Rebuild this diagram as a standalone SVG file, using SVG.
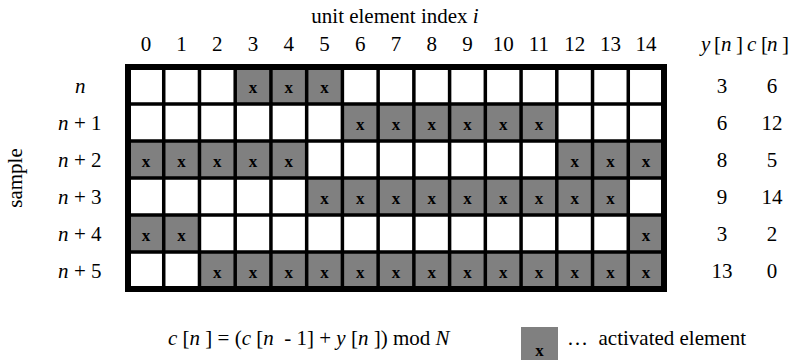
<svg xmlns="http://www.w3.org/2000/svg" width="793" height="360" viewBox="0 0 793 360">
<style>
text{font-family:"Liberation Serif","Times New Roman",serif;font-size:21px;fill:#000}
.i{font-style:italic}
.m{text-anchor:middle}
.on{fill:#808080}
.x{font-size:17px;font-weight:bold;text-anchor:middle}
.grid{fill:none;stroke:#000}
</style>
<rect width="793" height="360" fill="#fff"/>
<g id="title"><text x="395" y="23" class="m">unit element index <tspan class="i">i</tspan></text></g>
<g id="col-labels">
<text x="145.9" y="51" class="m">0</text><text x="181.6" y="51" class="m">1</text><text x="217.3" y="51" class="m">2</text><text x="253.1" y="51" class="m">3</text><text x="288.8" y="51" class="m">4</text><text x="324.5" y="51" class="m">5</text><text x="360.3" y="51" class="m">6</text><text x="396" y="51" class="m">7</text><text x="431.7" y="51" class="m">8</text><text x="467.5" y="51" class="m">9</text><text x="503.2" y="51" class="m">10</text><text x="538.9" y="51" class="m">11</text><text x="574.7" y="51" class="m">12</text><text x="610.4" y="51" class="m">13</text><text x="646.1" y="51" class="m">14</text>
</g>
<g id="axis-sample"><text transform="translate(22 178) rotate(-90)" class="m">sample</text></g>
<g id="row-labels">
<text x="75" y="93" class="i">n</text>
<text y="130"><tspan x="58" class="i">n</tspan><tspan x="74">+</tspan><tspan x="91">1</tspan></text>
<text y="167"><tspan x="58" class="i">n</tspan><tspan x="74">+</tspan><tspan x="91">2</tspan></text>
<text y="204"><tspan x="58" class="i">n</tspan><tspan x="74">+</tspan><tspan x="91">3</tspan></text>
<text y="241"><tspan x="58" class="i">n</tspan><tspan x="74">+</tspan><tspan x="91">4</tspan></text>
<text y="278"><tspan x="58" class="i">n</tspan><tspan x="74">+</tspan><tspan x="91">5</tspan></text>
</g>
<g id="grid-cells">
<rect x="128" y="67" width="536" height="222" fill="#fff"/>
<g id="row-0"><rect class="on" x="235.2" y="67" width="107.2" height="37"/>
<text class="x" x="253.1" y="93">x</text><text class="x" x="288.8" y="93">x</text><text class="x" x="324.5" y="93">x</text></g>
<g id="row-1"><rect class="on" x="342.4" y="104" width="214.4" height="37"/>
<text class="x" x="360.3" y="130">x</text><text class="x" x="396" y="130">x</text><text class="x" x="431.7" y="130">x</text><text class="x" x="467.5" y="130">x</text><text class="x" x="503.2" y="130">x</text><text class="x" x="538.9" y="130">x</text></g>
<g id="row-2"><rect class="on" x="128" y="141" width="178.7" height="37"/><rect class="on" x="556.8" y="141" width="107.2" height="37"/>
<text class="x" x="145.9" y="167">x</text><text class="x" x="181.6" y="167">x</text><text class="x" x="217.3" y="167">x</text><text class="x" x="253.1" y="167">x</text><text class="x" x="288.8" y="167">x</text><text class="x" x="574.7" y="167">x</text><text class="x" x="610.4" y="167">x</text><text class="x" x="646.1" y="167">x</text></g>
<g id="row-3"><rect class="on" x="306.7" y="178" width="321.6" height="37"/>
<text class="x" x="324.5" y="204">x</text><text class="x" x="360.3" y="204">x</text><text class="x" x="396" y="204">x</text><text class="x" x="431.7" y="204">x</text><text class="x" x="467.5" y="204">x</text><text class="x" x="503.2" y="204">x</text><text class="x" x="538.9" y="204">x</text><text class="x" x="574.7" y="204">x</text><text class="x" x="610.4" y="204">x</text></g>
<g id="row-4"><rect class="on" x="128" y="215" width="71.5" height="37"/><rect class="on" x="628.3" y="215" width="35.7" height="37"/>
<text class="x" x="145.9" y="241">x</text><text class="x" x="181.6" y="241">x</text><text class="x" x="646.1" y="241">x</text></g>
<g id="row-5"><rect class="on" x="199.5" y="252" width="464.5" height="37"/>
<text class="x" x="217.3" y="278">x</text><text class="x" x="253.1" y="278">x</text><text class="x" x="288.8" y="278">x</text><text class="x" x="324.5" y="278">x</text><text class="x" x="360.3" y="278">x</text><text class="x" x="396" y="278">x</text><text class="x" x="431.7" y="278">x</text><text class="x" x="467.5" y="278">x</text><text class="x" x="503.2" y="278">x</text><text class="x" x="538.9" y="278">x</text><text class="x" x="574.7" y="278">x</text><text class="x" x="610.4" y="278">x</text><text class="x" x="646.1" y="278">x</text></g>
</g>
<g id="grid-lines">
<path class="grid" stroke-width="3.5" d="M163.73 67V289M199.47 67V289M235.2 67V289M270.93 67V289M306.67 67V289M342.4 67V289M378.13 67V289M413.87 67V289M449.6 67V289M485.33 67V289M521.07 67V289M556.8 67V289M592.53 67V289M628.27 67V289M128 104H664M128 141H664M128 178H664M128 215H664M128 252H664"/>
<rect class="grid" stroke-width="6" x="128" y="67" width="536" height="222"/>
</g>
<g id="values">
<text y="51"><tspan x="701" class="i">y</tspan><tspan x="714">[</tspan><tspan x="721" class="i">n</tspan><tspan x="736">]</tspan><tspan x="747" class="i">c</tspan><tspan x="761">[</tspan><tspan x="767" class="i">n</tspan><tspan x="782">]</tspan></text>
<text x="722" y="93" class="m">3</text><text x="772" y="93" class="m">6</text>
<text x="722" y="130" class="m">6</text><text x="772" y="130" class="m">12</text>
<text x="722" y="167" class="m">8</text><text x="772" y="167" class="m">5</text>
<text x="722" y="204" class="m">9</text><text x="772" y="204" class="m">14</text>
<text x="722" y="241" class="m">3</text><text x="772" y="241" class="m">2</text>
<text x="722" y="278" class="m">13</text><text x="772" y="278" class="m">0</text>
</g>
<g id="formula"><text x="168" y="345" xml:space="preserve"><tspan class="i">c</tspan> [<tspan class="i">n</tspan> ] = (<tspan class="i">c</tspan> [<tspan class="i">n</tspan>  - 1] + <tspan class="i">y</tspan> [<tspan class="i">n</tspan> ]) mod <tspan class="i">N</tspan></text></g>
<g id="legend">
<rect class="on" x="521" y="327" width="37" height="36"/>
<text class="x" x="539.5" y="356">x</text>
<text x="567" y="345" xml:space="preserve">…  activated element</text>
</g>
</svg>
